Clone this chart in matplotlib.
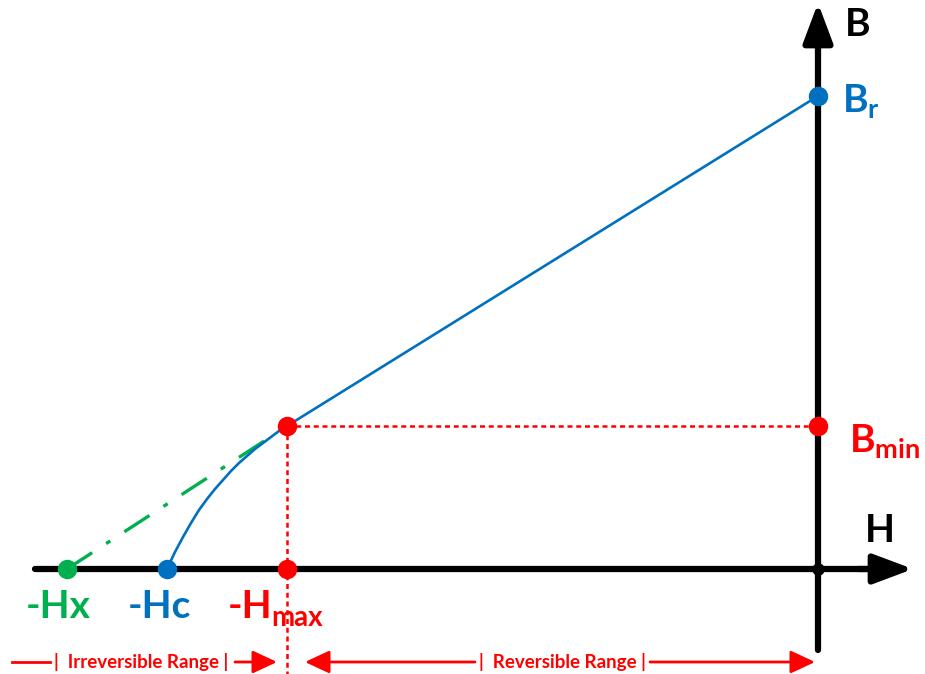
import numpy as np
import matplotlib.pyplot as plt

plt.rcParams['font.family'] = ['Lato', 'DejaVu Sans']
plt.rcParams['mathtext.fontset'] = 'custom'
plt.rcParams['mathtext.rm'] = 'Lato:bold'
plt.rcParams['mathtext.it'] = 'Lato:bold'
plt.rcParams['mathtext.bf'] = 'Lato:bold'

# key points of the demagnetisation curve (schematic units)
Br = 473
Bmin = 143
Hmax = -531
Hc = -651
Hx = -751

# knee curve between -Hc and the -Hmax point
knee_H = [-651, -643, -635, -627, -619, -611, -603, -595, -587, -579, -571, -563, -555, -547, -539, -531]
knee_B = [0, 17, 32, 46, 59, 70, 80, 89, 98, 106, 113, 120, 126, 132, 138, 143]

blue = '#0070C0'
red = '#FF0000'
green = '#00B050'

fig = plt.figure(figsize=(9.25, 6.74), dpi=100)
ax = fig.add_axes([0, 0, 1, 1])
ax.set_xlim(-818, 107)
ax.set_ylim(-105, 569)
ax.axis('off')

# axes with arrows
ax.plot([-783, 60], [0, 0], color='black', lw=4.5, solid_capstyle='round', zorder=2)
ax.annotate('', xy=(95, 0), xytext=(40, 0), annotation_clip=False,
            arrowprops=dict(arrowstyle='-|>,head_length=1.2,head_width=0.45', color='black',
                            lw=4.5, mutation_scale=20, shrinkA=0, shrinkB=0), zorder=2)
ax.plot([0, 0], [-81, 540], color='black', lw=4.5, solid_capstyle='round', zorder=2)
ax.annotate('', xy=(0, 566), xytext=(0, 520), annotation_clip=False,
            arrowprops=dict(arrowstyle='-|>,head_length=1.2,head_width=0.45', color='black',
                            lw=4.5, mutation_scale=20, shrinkA=0, shrinkB=0), zorder=2)
ax.plot(0, 0, 'o', color='black', ms=8, zorder=3)

# recoil line and knee
ax.plot([Hmax, 0], [Bmin, Br], color=blue, lw=1.9, zorder=4)
ax.plot(knee_H, knee_B, color=blue, lw=1.9, zorder=4, solid_joinstyle='round')

# extrapolated line to -Hx
ax.plot([Hx, Hmax - 12], [0, Bmin - 8], color=green, lw=2.4, dashes=(9, 5, 1.5, 5), zorder=3)

# dotted guides
ax.plot([Hmax, 0], [Bmin, Bmin], color=red, lw=1.8, dashes=(2, 1.5), zorder=3)
ax.plot([Hmax, Hmax], [Bmin, -105], color=red, lw=1.8, dashes=(2, 1.5), zorder=3)

# points
ax.plot(0, Br, 'o', color=blue, ms=13, zorder=5)
ax.plot(Hc, 0, 'o', color=blue, ms=13, zorder=5)
ax.plot(Hx, 0, 'o', color=green, ms=13, zorder=5)
ax.plot([Hmax, Hmax, 0], [Bmin, 0, Bmin], 'o', color=red, ms=13, zorder=5)

# labels
ax.text(40, 544, 'B', fontsize=28, fontweight='bold', ha='center', va='center')
ax.text(62, 39, 'H', fontsize=28, fontweight='bold', ha='center', va='center')
ax.text(24, 468, r'$\mathrm{B_r}$', fontsize=28, color=blue, ha='left', va='center')
ax.text(31, 128, r'$\mathrm{B_{min}}$', fontsize=28, color=red, ha='left', va='center')
ax.text(Hx - 9, -37, '-Hx', fontsize=28, fontweight='bold', color=green, ha='center', va='center')
ax.text(Hc - 8, -37, '-Hc', fontsize=28, fontweight='bold', color=blue, ha='center', va='center')
ax.text(Hmax - 59, -37, '-H', fontsize=28, fontweight='bold', color=red, ha='left', va='center')
ax.text(Hmax - 16, -49, 'max', fontsize=20, fontweight='bold', color=red, ha='left', va='center')

# range annotations
yr = -93
ax.plot([-806, -768], [yr, yr], color=red, lw=2)
ax.text(-677, yr, '|  Irreversible Range |', fontsize=13.5, fontweight='bold', color=red,
        ha='center', va='center')
ax.annotate('', xy=(Hmax - 10, yr), xytext=(-583, yr),
            arrowprops=dict(arrowstyle='-|>,head_length=0.75,head_width=0.35', color=red,
                            lw=2, mutation_scale=20, shrinkA=0, shrinkB=0))
ax.annotate('', xy=(-513, yr), xytext=(-343, yr),
            arrowprops=dict(arrowstyle='-|>,head_length=0.75,head_width=0.35', color=red,
                            lw=2, mutation_scale=20, shrinkA=0, shrinkB=0))
ax.text(-256, yr, '|  Reversible Range |', fontsize=13.5, fontweight='bold', color=red,
        ha='center', va='center')
ax.annotate('', xy=(-3, yr), xytext=(-168, yr),
            arrowprops=dict(arrowstyle='-|>,head_length=0.75,head_width=0.35', color=red,
                            lw=2, mutation_scale=20, shrinkA=0, shrinkB=0))

fig.savefig('out.png', dpi=100)
